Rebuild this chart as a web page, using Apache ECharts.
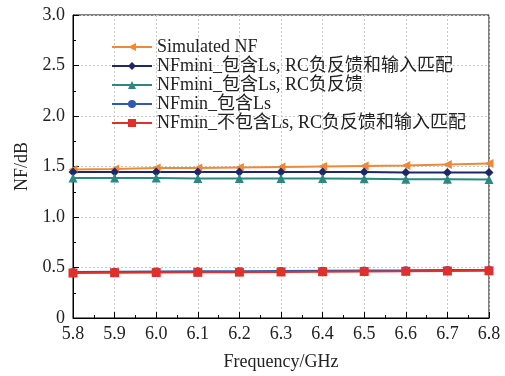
<!DOCTYPE html>
<html><head><meta charset="utf-8">
<script src="https://cdn.jsdelivr.net/npm/echarts@6/dist/echarts.min.js"></script>
<style>html,body{margin:0;padding:0;background:#fff}#c{width:505px;height:376px}</style>
</head><body><div id="c"></div>
<script>
const freq = [5.8,5.9,6.0,6.1,6.2,6.3,6.4,6.5,6.6,6.7,6.8];
const simNF = [1.47,1.475,1.485,1.485,1.49,1.495,1.50,1.505,1.51,1.52,1.53];
const nfminiFull = [1.445,1.445,1.445,1.445,1.445,1.445,1.445,1.445,1.44,1.44,1.44];
const nfminiRC = [1.385,1.385,1.385,1.382,1.382,1.38,1.38,1.378,1.375,1.375,1.372];
const nfminLs = [0.455,0.458,0.46,0.462,0.464,0.466,0.468,0.47,0.472,0.475,0.476];
const nfminNone = [0.445,0.448,0.45,0.452,0.454,0.456,0.458,0.46,0.462,0.465,0.467];
const names = ['Simulated NF','NFmini_包含Ls, RC负反馈和输入匹配','NFmini_包含Ls, RC负反馈','NFmin_包含Ls','NFmin_不包含Ls, RC负反馈和输入匹配'];
const font = '"Liberation Serif","Times New Roman","Noto Sans CJK SC",serif';
function mk(name, data, color, symbol, rot, size){
  return {name, type:'line', data: freq.map((f,i)=>[f,data[i]]), symbol, symbolRotate: rot, symbolSize: size,
    lineStyle:{color, width:2}, itemStyle:{color}, z: 3};
}
const chart = echarts.init(document.getElementById('c'));
chart.setOption({
  animation:false,
  textStyle:{fontFamily:font},
  grid:{left:73,right:16,top:15,bottom:54,show:true,borderColor:'#000',borderWidth:1},
  legend:{left:106,top:33,orient:'vertical',itemGap:1,itemWidth:40,itemHeight:10,
    textStyle:{fontFamily:font,fontSize:18,color:'#222'}, data:names},
  xAxis:{type:'value',min:5.8,max:6.8,interval:0.1,
    name:'Frequency/GHz',nameLocation:'middle',nameGap:35,nameTextStyle:{fontFamily:font,fontSize:18,color:'#222'},
    axisLine:{lineStyle:{color:'#000'}},axisTick:{inside:true,length:6,lineStyle:{color:'#000'}},
    minorTick:{show:true,splitNumber:2,length:3,lineStyle:{color:'#000'}},
    axisLabel:{fontFamily:font,fontSize:18,color:'#222',formatter:v=>v.toFixed(1),margin:7},
    splitLine:{show:true,lineStyle:{color:'#c8c8c8',type:[2,2]}}},
  yAxis:{type:'value',min:0,max:3,interval:0.5,
    name:'NF/dB',nameLocation:'middle',nameGap:39,nameTextStyle:{fontFamily:font,fontSize:18,color:'#222'},
    axisLine:{show:true,lineStyle:{color:'#000'}},axisTick:{show:true,inside:true,length:6,lineStyle:{color:'#000'}},
    minorTick:{show:true,splitNumber:2,length:3,lineStyle:{color:'#000'}},
    axisLabel:{fontFamily:font,fontSize:18,color:'#222',formatter:v=>v===0?'0':v.toFixed(1),margin:8},
    splitLine:{show:true,lineStyle:{color:'#c8c8c8',type:[2,2]}}},
  series:[
    mk(names[0],simNF,'#F0883A','triangle',90,9),
    mk(names[1],nfminiFull,'#1E2767','diamond',0,9),
    mk(names[2],nfminiRC,'#2A8A82','triangle',0,9),
    mk(names[3],nfminLs,'#2E5AB0','circle',0,8),
    mk(names[4],nfminNone,'#E0302C','rect',0,9)
  ]
});
</script></body></html>
